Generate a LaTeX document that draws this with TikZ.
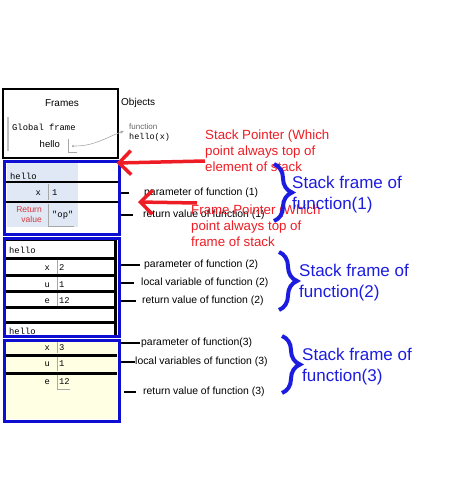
\documentclass[tikz,border=0pt]{standalone}
\usepackage{fontspec}
\setmainfont{Liberation Sans}
\newfontfamily\codefont{Liberation Mono}
\usepackage{tikz}
\usetikzlibrary{arrows.meta,positioning,decorations.pathreplacing}
\definecolor{FrameBlue}{HTML}{0E0ED2}
\definecolor{NoteBlue}{HTML}{1C1CE0}
\definecolor{NoteRed}{HTML}{EE1C24}
\definecolor{TutorBlue}{HTML}{DFE8F4}
\definecolor{TutorYellow}{HTML}{FFFFE4}
\definecolor{TutorGray}{HTML}{A8A8A8}
\definecolor{RetRed}{HTML}{D8383A}
\newcommand{\vname}[3]{\node[font=\codefont\fontsize{8.8}{10}\selectfont,
  anchor=east,inner sep=0pt] (#1) at #2 {#3};}
\newcommand{\vval}[3]{\node[font=\codefont\fontsize{8.8}{10}\selectfont,
  anchor=west,inner sep=0pt] (#1) at #2 {#3};}
\newcommand{\note}[3]{\node[font=\fontsize{10.4}{12}\selectfont,
  anchor=west,inner sep=0pt] (#1) at #2 {#3};}

\begin{document}
\begin{tikzpicture}[
  x=1pt, y=-1pt,
  blk/.style={line width=2.5pt},
  frm/.style={draw=FrameBlue, line width=3pt, minimum width=115pt,
    anchor=north west, inner sep=0pt},
  cell/.style={draw=TutorGray, line width=0.6pt},
  tick/.style={line width=2.5pt},
  redarr/.style={-{Straight Barb[length=12pt,width=24pt]}, draw=NoteRed,
    line width=3.5pt},
  brc/.style={decorate, decoration={brace, amplitude=18pt}, draw=NoteBlue,
    line width=4pt},
  redtxt/.style={text=NoteRed, font=\fontsize{13.3}{16}\selectfont,
    align=left, anchor=west, inner sep=0pt},
  bluetxt/.style={text=NoteBlue, font=\fontsize{17}{21}\selectfont,
    align=left, anchor=west, inner sep=0pt},
  code/.style={font=\codefont\fontsize{8.8}{10}\selectfont, anchor=west,
    inner sep=0pt},
]
\useasboundingbox (0,0) rectangle (474,480);

%% ── Frames / Objects header ──────────────────────────────────────────────
\draw[blk] (3,89) rectangle (118,158);
\node[font=\fontsize{10}{12}\selectfont] (hdF) at (62,103) {Frames};
\node[font=\fontsize{10}{12}\selectfont, anchor=west, inner sep=0pt]
  (hdO) at (121,103) {Objects};
\draw[TutorGray!70, line width=1.5pt] (8,117) -- (8,151);
\node[code] (glob) at (12,127) {Global frame};
\node[font=\fontsize{9.5}{11}\selectfont, anchor=east, inner sep=0pt]
  (gh) at (60,144) {hello};
\draw[cell] (68,139) -- (68,152) -- (77,152);
\node[circle, fill=TutorGray, inner sep=0pt, minimum size=2.5pt]
  (gdot) at (73,146) {};
\node[font=\fontsize{8}{9}\selectfont, text=gray!80!black, anchor=west,
  inner sep=0pt] (fn) at (129,127) {function};
\node[code, font=\codefont\fontsize{8.5}{10}\selectfont]
  (fnname) at (129,137) {hello(x)};
\draw[cell, -{Stealth[length=4pt]}] (gdot) to[out=0, in=200]
  ([xshift=-5pt,yshift=-4pt]fn.west);

%% ── Stack frame (1) ──────────────────────────────────────────────────────
\fill[TutorBlue] (7,163) rectangle (78,227);
\draw[blk] (3,182) -- (118,182);
\draw[blk] (3,202) -- (118,202);
\draw[cell] (48,184) -- (48,200);
\draw[cell] (48,204) -- (48,226) -- (74,226);
\node[code] (h1) at (10,176) {hello};
\vname{x1n}{(41,193)}{x}
\vval{x1v}{(52,193)}{1}
\node[text=RetRed, font=\fontsize{8.5}{10}\selectfont, align=right,
  anchor=east, inner sep=0pt] (ret1) at (42,215) {Return\\value};
\vval{ret1v}{(52,215)}{"op"}
\node[frm, minimum height=73pt] (f1) at (2.5,160) {};

%% ── Stack frame (2) ──────────────────────────────────────────────────────
\draw[blk] (4.5,239.5) rectangle (115.5,336);
\foreach \yy in {258.5,275,291,307.5,322.5}
  \draw[line width=3pt] (3,\yy) -- (117,\yy);
\foreach \ya/\yb in {260/274,277/290,293/306}
  \draw[cell] (57,\ya) -- (57,\yb);
\node[code] (h2) at (9,250) {hello};
\vname{x2n}{(50,268)}{x}
\vval{x2v}{(59,268)}{2}
\vname{u2n}{(50,285)}{u}
\vval{u2v}{(59,285)}{1}
\vname{e2n}{(50,301)}{e}
\vval{e2v}{(59,301)}{12}
\node[code] (h3) at (9,331) {hello};
\node[frm, minimum height=98pt] (f2) at (2.5,237) {};

%% ── Stack frame (3) ──────────────────────────────────────────────────────
\fill[TutorYellow] (3,340) rectangle (117,419);
\draw[line width=3pt] (3,355) -- (117,355);
\draw[line width=3pt] (3,373) -- (117,373);
\draw[cell] (57,340) -- (57,353);
\draw[cell] (57,357) -- (57,371);
\draw[cell] (57,375) -- (57,389) -- (70,389);
\vname{x3n}{(50,348)}{x}
\vval{x3v}{(59,348)}{3}
\vname{u3n}{(50,364)}{u}
\vval{u3v}{(59,364)}{1}
\vname{e3n}{(50,382)}{e}
\vval{e3v}{(59,382)}{12}
\node[frm, minimum height=81pt] (f3) at (2.5,339) {};

%% ── Labels and ticks ─────────────────────────────────────────────────────
\note{p1}{(144,193)}{parameter of function (1)}
\note{r1}{(143,215)}{return value of function (1)}
\note{p2}{(144,265)}{parameter of function (2)}
\note{l2}{(141,283)}{local variable of function (2)}
\note{r2}{(142,301)}{return value of function (2)}
\note{p3}{(141,343)}{parameter of function(3)}
\note{l3}{(135,362)}{local variables of function (3)}
\note{r3}{(143,392)}{return value of function (3)}

\draw[tick] (f1.east |- p1.west) -- ++(8,0);
\draw[tick] (f1.east |- r1.west) -- ++(12,0);
\draw[tick] (f2.east |- p2.west) -- ++(19,0);
\draw[tick] (f2.east |- l2.west) -- ++(13,0);
\draw[tick] (f2.east |- r2.west) -- ++(15,0);
\draw[tick] (f3.east |- p3.west) -- ++(19,0);
\draw[tick] (f3.east |- l3.west) -- ++(14,0);
\draw[tick] ([xshift=3pt]f3.east |- r3.west) -- ++(12,0);

%% ── Pointers ─────────────────────────────────────────────────────────────
\node[redtxt] (sp) at (205,151)
  {Stack Pointer (Which\\point always top of\\element of stack};
\draw[redarr] ([yshift=-10pt]sp.west) -- ([xshift=-4pt,yshift=-3pt]f1.north east);

\node[redtxt] (fp) at (191,226)
  {Frame Pointer (Which\\point always top of\\frame of stack};
\coordinate (fpTip) at (138,202);
\draw[redarr] ([xshift=6pt,yshift=23pt]fp.west) -- (fpTip);

%% ── Braces ───────────────────────────────────────────────────────────────
\draw[brc] (274,164) -- (274,221);
\node[bluetxt] (sf1) at (292,195) {Stack frame of\\function(1)};
\draw[brc] (279,252) -- (279,310);
\node[bluetxt] (sf2) at (299,283) {Stack frame of\\function(2)};
\draw[brc] (282,336) -- (282,393);
\node[bluetxt] (sf3) at (302,367) {Stack frame of\\function(3)};

\end{tikzpicture}
\end{document}
